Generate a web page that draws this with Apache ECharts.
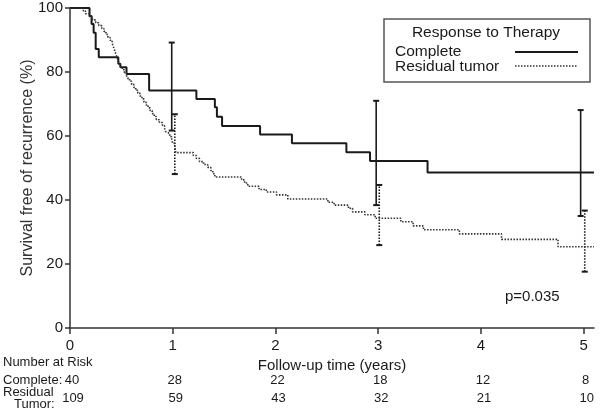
<!DOCTYPE html>
<html>
<head>
<meta charset="utf-8">
<script src="https://cdn.jsdelivr.net/npm/echarts@6.0.0/dist/echarts.min.js"></script>
<style>
  html, body { margin: 0; padding: 0; background: #fff; }
  #chart { width: 600px; height: 414px; }
</style>
</head>
<body>
<div id="chart"></div>
<script>
// Kaplan-Meier: [years, survival %] after each drop
const completeCurve = [
  [0, 100], [0.19, 97.5], [0.21, 95], [0.23, 92.3], [0.25, 87.2], [0.28, 84.6],
  [0.47, 82.6], [0.49, 81.5], [0.55, 79.4], [0.77, 74.2], [1.23, 71.6],
  [1.41, 69.0], [1.43, 66.0], [1.48, 63.1], [1.85, 60.5], [2.16, 57.7],
  [2.69, 54.9], [2.92, 52.2], [3.48, 48.6], [5.1, 48.6]
]
const residualCurve = [
  [0, 100], [0.13, 99.1], [0.15, 98.2], [0.19, 97.2], [0.22, 96.3], [0.25, 95.4],
  [0.28, 94.5], [0.31, 93.6], [0.33, 92.7], [0.35, 91.7], [0.37, 90.8],
  [0.39, 89.9], [0.41, 89.0], [0.42, 88.1], [0.43, 87.2], [0.44, 86.2],
  [0.45, 85.3], [0.46, 84.4], [0.47, 83.5], [0.48, 82.6], [0.49, 81.7],
  [0.51, 80.7], [0.53, 79.8], [0.55, 78.9], [0.56, 78.0], [0.58, 77.1],
  [0.60, 76.2], [0.62, 75.2], [0.64, 74.3], [0.66, 73.4], [0.68, 72.5],
  [0.70, 71.6], [0.72, 70.6], [0.74, 69.7], [0.76, 68.8], [0.78, 67.9],
  [0.80, 67.0], [0.82, 66.1], [0.84, 65.1], [0.87, 64.2], [0.90, 63.3],
  [0.92, 62.4], [0.93, 61.4], [0.94, 60.8], [0.97, 59.8], [0.99, 58.8],
  [1.00, 57.7], [1.02, 56.7], [1.03, 54.8], [1.20, 53.9], [1.23, 53.0],
  [1.26, 52.0], [1.30, 51.1], [1.34, 50.2], [1.37, 49.2], [1.39, 48.2],
  [1.41, 47.2], [1.67, 46.3], [1.70, 45.3], [1.73, 44.3], [1.84, 43.3],
  [1.91, 42.5], [2.01, 41.6], [2.12, 40.3], [2.51, 39.3], [2.57, 38.4],
  [2.71, 37.4], [2.75, 36.3], [2.87, 35.4], [2.97, 34.3], [3.22, 33.2],
  [3.34, 31.9], [3.44, 30.7], [3.79, 29.4], [4.20, 27.7], [4.75, 25.4],
  [5.1, 25.4]
]
// confidence bars: [years, low, high]
const completeBars = [[0.99, 61.7, 89.2], [2.98, 38.4, 71.0], [4.97, 35.0, 68.1]]
const residualBars = [[1.02, 48.1, 66.8], [3.01, 25.9, 44.7], [5.01, 17.6, 36.7]]

const xTicks = [0, 1, 2, 3, 4, 5]
const riskComplete = [40, 28, 22, 18, 12, 8]
const riskResidual = [109, 59, 43, 32, 21, 10]

const FONT = '"Liberation Sans", Arial, sans-serif'
const INK = '#1a1a1a'

function errorBar(dash) {
  return function (params, api) {
    const t = api.value(0)
    const lo = api.coord([t, api.value(1)])
    const hi = api.coord([t, api.value(2)])
    const cap = { stroke: INK, lineWidth: 2 }
    return {
      type: 'group',
      children: [
        { type: 'line', shape: { x1: lo[0], y1: lo[1], x2: hi[0], y2: hi[1] },
          style: { stroke: INK, lineWidth: 1.6, lineDash: dash } },
        { type: 'line', shape: { x1: lo[0] - 3, y1: lo[1], x2: lo[0] + 3, y2: lo[1] }, style: cap },
        { type: 'line', shape: { x1: hi[0] - 3, y1: hi[1], x2: hi[0] + 3, y2: hi[1] }, style: cap }
      ]
    }
  }
}

const chart = echarts.init(document.getElementById('chart'))

chart.setOption({
  animation: false,
  grid: { left: 70, right: 6, top: 8, bottom: 86 },
  xAxis: {
    type: 'value',
    min: 0,
    max: 5.1,
    name: 'Follow-up time (years)',
    nameLocation: 'middle',
    nameGap: 26,
    nameTextStyle: { fontFamily: FONT, fontSize: 15, color: INK },
    axisLine: { lineStyle: { color: '#333', width: 1.5 } },
    axisTick: { length: 6, customValues: xTicks, lineStyle: { color: '#333', width: 1.5 } },
    axisLabel: { customValues: xTicks, margin: 10, fontFamily: FONT, fontSize: 15, color: INK },
    splitLine: { show: false }
  },
  yAxis: {
    type: 'value',
    min: 0,
    max: 100,
    interval: 20,
    name: 'Survival free of recurrence (%)',
    nameLocation: 'middle',
    nameGap: 34,
    nameMoveOverlap: false,
    nameTextStyle: { fontFamily: FONT, fontSize: 16, color: '#333' },
    axisLine: { show: true, lineStyle: { color: '#333', width: 1.5 } },
    axisTick: { show: true, length: 5, lineStyle: { color: '#333', width: 1.5 } },
    axisLabel: { margin: 7, fontFamily: FONT, fontSize: 15, color: INK },
    splitLine: { show: false }
  },
  series: [
    {
      name: 'Complete',
      type: 'line',
      step: 'end',
      data: completeCurve,
      showSymbol: false,
      lineStyle: { color: INK, width: 2 }
    },
    {
      name: 'Residual tumor',
      type: 'line',
      step: 'end',
      data: residualCurve,
      showSymbol: false,
      lineStyle: { color: '#333', width: 1.6, type: [1.5, 1.5] }
    },
    {
      type: 'custom',
      renderItem: errorBar(null),
      encode: { x: 0, y: [1, 2] },
      data: completeBars
    },
    {
      type: 'custom',
      renderItem: errorBar([1.5, 1.5]),
      encode: { x: 0, y: [1, 2] },
      data: residualBars
    }
  ]
})

// legend box, p-value and number-at-risk table
const textStyle = (text, x, y, size, align) => ({
  type: 'text',
  style: { text, x, y, font: size + 'px ' + FONT, fill: INK, align: align || 'left', verticalAlign: 'middle' }
})

const graphics = [
  { type: 'rect', shape: { x: 384, y: 19, width: 206, height: 63 },
    style: { fill: '#fff', stroke: '#555', lineWidth: 1.5 }, z: 10 },
  Object.assign(textStyle('Response to Therapy', 486, 33, 15.5, 'center'), { z: 11 }),
  Object.assign(textStyle('Complete', 395, 52, 15.5), { z: 11 }),
  Object.assign(textStyle('Residual tumor', 395, 67, 15.5), { z: 11 }),
  { type: 'line', shape: { x1: 515, y1: 52, x2: 578, y2: 52 }, style: { stroke: INK, lineWidth: 2 }, z: 11 },
  { type: 'line', shape: { x1: 515, y1: 66, x2: 578, y2: 66 },
    style: { stroke: '#333', lineWidth: 1.5, lineDash: [1.5, 1.5] }, z: 11 },
  textStyle('p=0.035', 505, 297, 15),
  textStyle('Number at Risk', 3, 362, 13),
  textStyle('Complete:', 3, 380, 13),
  textStyle('Residual', 3, 392, 13),
  textStyle('Tumor:', 14, 404, 13)
]

xTicks.forEach((t, i) => {
  const px = chart.convertToPixel({ xAxisIndex: 0 }, t)
  graphics.push(textStyle(String(riskComplete[i]), px + 2, 380, 13, 'center'))
  graphics.push(textStyle(String(riskResidual[i]), px + 3, 398, 13, 'center'))
})

chart.setOption({ graphic: graphics })
</script>
</body>
</html>
